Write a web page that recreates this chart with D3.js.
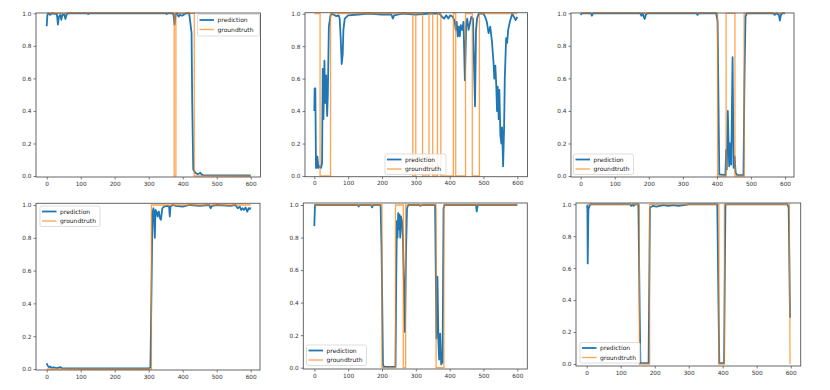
<!DOCTYPE html>
<html>
<head>
<meta charset="utf-8">
<script src="https://cdn.jsdelivr.net/npm/d3@7"></script>
<style>
  html, body { margin: 0; padding: 0; background: #fff; }
  svg { display: block; }
  text { font-family: "DejaVu Sans", sans-serif; }
</style>
</head>
<body>
<svg id="chart" width="830" height="390"></svg>
<script>
// ---------------- data ----------------
const xTicks = [0, 100, 200, 300, 400, 500, 600];
const yTicks = [0.0, 0.2, 0.4, 0.6, 0.8, 1.0];
const seriesNames = ["prediction", "groundtruth"];

const pred1 = [[0,0.92],[2,0.99],[5,1.0],[10,0.99],[15,1.0],[30,0.995],[33,0.93],[36,0.98],[40,0.99],[43,0.96],[46,0.99],[52,0.99],[55,0.965],[58,0.99],[62,1.0],[120,1.0],[122,0.995],[125,1.0],[350,1.0],[353,0.995],[356,1.0],[370,1.0],[373,0.99],[376,0.93],[379,0.99],[383,1.0],[388,0.98],[392,0.99],[398,0.985],[402,0.99],[410,1.0],[419,1.0],[422,0.95],[426,0.88],[428,0.45],[431,0.04],[437,0.02],[443,0.012],[448,0.015],[452,0.02],[456,0.008],[460,0.005],[600,0.003]];
const gt1 = [[0,1],[375,1],[375,0],[380,0],[380,1],[434,1],[434,0],[600,0]];

const pred2 = [[0,0.4],[1,0.54],[3,0.54],[5,0.05],[7,0.05],[9,0.12],[12,0.05],[16,0.06],[20,0.05],[23,0.08],[25,0.66],[27,0.35],[30,0.71],[32,0.45],[35,0.62],[38,0.37],[40,0.5],[43,0.92],[48,0.99],[52,1.0],[60,0.99],[66,0.985],[72,0.99],[75,0.97],[78,0.85],[81,0.69],[84,0.75],[86,0.9],[90,0.97],[100,0.99],[130,0.995],[160,1.0],[200,0.995],[228,0.995],[232,0.97],[236,0.99],[260,1.0],[300,0.995],[340,1.0],[370,1.0],[378,0.98],[384,0.97],[390,0.99],[396,0.97],[402,0.99],[410,0.98],[415,0.95],[418,0.9],[421,0.95],[424,0.86],[427,0.92],[430,0.86],[433,0.93],[437,0.9],[441,0.95],[445,0.59],[449,0.93],[452,0.97],[456,0.9],[460,0.94],[464,0.98],[469,0.97],[472,0.7],[475,0.43],[478,0.9],[481,0.97],[486,1.0],[500,1.0],[505,0.98],[510,0.95],[515,0.88],[520,0.92],[525,0.83],[530,0.69],[532,0.6],[535,0.68],[538,0.55],[540,0.4],[542,0.55],[545,0.35],[547,0.53],[550,0.25],[553,0.2],[555,0.3],[558,0.06],[561,0.3],[563,0.6],[567,0.85],[570,0.82],[573,0.9],[578,0.95],[585,1.0],[590,0.98],[595,0.96],[600,0.98]];
const gt2 = [[0,1],[17,1],[17,0],[48,0],[48,1],[291,1],[291,0],[300,0],[300,1],[320,1],[320,0],[339,0],[339,1],[350,1],[350,0],[364,0],[364,1],[374,1],[374,0],[411,0],[411,1],[418,1],[418,0],[447,0],[447,1],[467,1],[467,0],[488,0],[488,1],[600,1]];

const pred3 = [[0,0.99],[3,1.0],[30,1.0],[33,0.985],[36,1.0],[175,1.0],[178,0.985],[182,1.0],[185,0.98],[188,0.965],[191,0.99],[195,1.0],[340,1.0],[343,0.99],[346,1.0],[398,1.0],[402,0.95],[407,0.01],[425,0.005],[427,0.16],[429,0.04],[432,0.4],[436,0.06],[439,0.2],[442,0.07],[446,0.73],[449,0.05],[452,0.12],[455,0.02],[460,0.005],[478,0.005],[481,0.6],[484,0.98],[488,1.0],[565,1.0],[570,0.99],[575,1.0],[582,0.99],[585,0.955],[588,0.99],[592,1.0],[600,1.0]];
const gt3 = [[0,1],[402,1],[402,0],[427,0],[427,1],[453,1],[453,0],[480,0],[480,1],[600,1]];

const pred4 = [[0,0.035],[3,0.02],[6,0.012],[10,0.015],[14,0.008],[20,0.01],[30,0.006],[40,0.012],[45,0.005],[100,0.003],[300,0.003],[305,0.01],[309,0.6],[311,0.95],[314,0.98],[316,0.9],[318,0.8],[320,0.97],[323,0.96],[326,0.93],[330,0.96],[333,0.92],[336,0.91],[340,0.98],[345,0.99],[355,0.995],[360,0.99],[362,0.93],[364,0.99],[370,1.0],[380,0.995],[400,0.99],[420,1.0],[450,0.995],[478,1.0],[482,0.98],[486,0.995],[500,1.0],[540,0.995],[555,1.0],[562,0.98],[568,0.99],[572,0.97],[576,0.98],[580,0.97],[585,0.985],[590,0.96],[594,0.98],[597,0.975],[600,0.985]];
const gt4 = [[0,0],[308,0],[308,1],[600,1]];

const pred5 = [[0,0.87],[2,1.0],[128,1.0],[131,0.99],[134,1.0],[168,1.0],[171,0.985],[174,1.0],[196,1.0],[199,0.7],[203,0.02],[206,0.005],[240,0.005],[242,0.5],[244,0.9],[246,0.8],[248,0.95],[250,0.85],[252,0.94],[254,0.8],[256,0.93],[259,0.9],[262,0.8],[265,0.5],[268,0.22],[271,0.7],[274,0.98],[278,1.0],[310,1.0],[313,0.995],[320,1.0],[357,1.0],[361,0.18],[364,0.56],[367,0.15],[369,0.05],[372,0.21],[375,0.02],[377,0.1],[379,0.03],[382,0.98],[385,1.0],[478,1.0],[480,0.96],[483,1.0],[600,1.0]];
const gt5 = [[0,1],[200,1],[200,0],[240,0],[240,1],[263,1],[263,0],[270,0],[270,1],[360,1],[360,0],[383,0],[383,1],[600,1]];

const pred6 = [[0,0.98],[2,0.99],[3,0.63],[5,0.97],[7,0.98],[10,1.0],[128,1.0],[131,0.99],[135,1.0],[138,0.99],[142,1.0],[152,1.0],[156,0.3],[158,0.005],[182,0.005],[186,0.98],[190,0.985],[195,0.99],[205,0.985],[215,0.99],[225,0.995],[240,0.99],[255,0.995],[270,0.99],[300,1.0],[384,1.0],[388,0.3],[390,0.005],[404,0.005],[408,1.0],[590,1.0],[594,0.98],[598,0.29]];
const gt6 = [[0,1],[155,1],[155,0],[185,0],[185,1],[389,1],[389,0],[405,0],[405,1],[596,1],[598,0]];

// ---------------- layout ----------------
// frame: left,right,top,bottom ; x0/x600: pixel of x=0 / x=600 ; y1/y0: pixel of 1.0 / 0.0
const layout = [
  {frame:[36,260.5,13,177], xp:[46.7,250.7], yp:[13.3,176], legend:{x:197.5,y:14.5,w:62,h:21.5}},
  {frame:[305,527.5,12.7,176.7], xp:[314.3,517.3], yp:[13.7,176], legend:{x:385,y:154,w:61,h:20.5}},
  {frame:[571,794,13,177], xp:[580.7,785], yp:[13.3,176], legend:{x:573.5,y:154,w:60,h:20.5}},
  {frame:[36,260,203.3,370], xp:[46.7,250.7], yp:[205,369], legend:{x:40,y:206,w:60,h:20.5}},
  {frame:[303.3,527.3,203,369], xp:[314.3,517.3], yp:[205,367.7], legend:{x:306.5,y:345,w:60,h:20.5}},
  {frame:[576,800.7,203,366], xp:[586.7,790.7], yp:[204.3,364], legend:{x:580,y:342.5,w:60,h:20.5}}
];
const preds = [pred1, pred2, pred3, pred4, pred5, pred6];
const gts = [gt1, gt2, gt3, gt4, gt5, gt6];

const BLUE = "#1f77b4", ORANGE = "#ff7f0e";
const svg = d3.select("#chart");

layout.forEach((L, i) => {
  const [fl, fr, ft, fb] = L.frame;
  const x = d3.scaleLinear().domain([0, 600]).range(L.xp);
  const y = d3.scaleLinear().domain([0, 1]).range([L.yp[1], L.yp[0]]);
  const g = svg.append("g");

  const clipId = "clip" + i;
  g.append("clipPath").attr("id", clipId)
    .append("rect").attr("x", fl).attr("y", ft - 1.5).attr("width", fr - fl).attr("height", fb - ft + 3);

  const line = d3.line().x(d => x(d[0])).y(d => y(d[1]));
  const plot = g.append("g").attr("clip-path", `url(#${clipId})`);
  plot.append("path").datum(preds[i]).attr("d", line)
    .attr("fill", "none").attr("stroke", BLUE).attr("stroke-width", 1.8)
    .attr("stroke-linejoin", "round");
  plot.append("path").datum(gts[i]).attr("d", line)
    .attr("fill", "none").attr("stroke", ORANGE).attr("stroke-width", 1.3)
    .attr("stroke-opacity", 0.72).attr("stroke-linejoin", "miter");

  // axes
  const xAxis = d3.axisBottom(x).tickValues(xTicks).tickSize(2.5).tickPadding(2).tickFormat(d3.format("d"));
  const yAxis = d3.axisLeft(y).tickValues(yTicks).tickSize(2.5).tickPadding(2).tickFormat(d3.format(".1f"));
  const gx = g.append("g").attr("transform", `translate(0,${fb})`).call(xAxis);
  const gy = g.append("g").attr("transform", `translate(${fl},0)`).call(yAxis);
  [gx, gy].forEach(a => {
    a.select(".domain").remove();
    a.selectAll(".tick line").attr("stroke", "#444").attr("stroke-width", 0.7);
    a.selectAll(".tick text").attr("fill", "#333").attr("font-size", 5.8)
      .attr("font-family", "DejaVu Sans, sans-serif");
  });

  // frame
  g.append("rect").attr("x", fl).attr("y", ft).attr("width", fr - fl).attr("height", fb - ft)
    .attr("fill", "none").attr("stroke", "#555").attr("stroke-width", 0.9);

  // legend
  const lg = g.append("g").attr("transform", `translate(${L.legend.x},${L.legend.y})`);
  lg.append("rect").attr("width", L.legend.w).attr("height", L.legend.h).attr("rx", 1.5)
    .attr("fill", "#fff").attr("fill-opacity", 0.85).attr("stroke", "#d0d0d0").attr("stroke-width", 0.7);
  seriesNames.forEach((name, k) => {
    const yy = 5.5 + k * 9.5;
    lg.append("line").attr("x1", 2).attr("x2", 16.5).attr("y1", yy).attr("y2", yy)
      .attr("stroke", k === 0 ? BLUE : ORANGE)
      .attr("stroke-width", k === 0 ? 1.8 : 1.3)
      .attr("stroke-opacity", k === 0 ? 1 : 0.72);
    lg.append("text").attr("x", 20).attr("y", yy).attr("dy", "0.35em")
      .attr("font-size", 6).attr("fill", "#222").text(name);
  });
});
</script>
</body>
</html>
